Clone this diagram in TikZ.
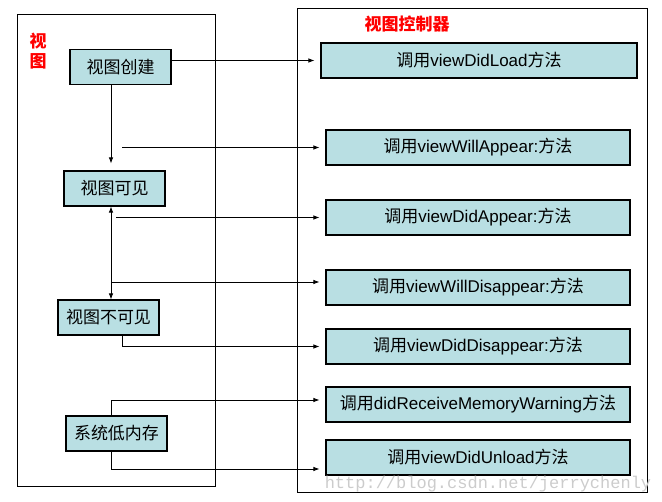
\documentclass[tikz,border=0pt]{standalone}
\usepackage{fontspec}
\setmainfont{Liberation Sans}
\setmonofont{Liberation Mono}
\newfontfamily\cjk{Noto Sans CJK SC}
\usepackage{tikz}
\usetikzlibrary{arrows.meta,positioning}
\definecolor{boxfill}{RGB}{185,223,227}
\newcommand\zh[1]{{\cjk #1}}

\begin{document}
\begin{tikzpicture}[
    x=1pt, y=-1pt,
    >={Latex[length=6pt,width=4.5pt]},
    every node/.style={font=\fontsize{17}{20}\selectfont},
    state/.style={draw, line width=1.1pt, fill=boxfill, minimum width=101pt,
                  minimum height=35pt, inner sep=0pt},
    method/.style={state, minimum width=#1},
    method/.default=304pt,
    frame/.style={draw, line width=0.8pt},
    title/.style={text=red, font=\fontsize{17}{20}\selectfont\cjk\bfseries},
    arr/.style={->, line width=0.8pt, shorten >=6pt},
  ]
    \useasboundingbox (0,0) rectangle (662,502);

    % --- Frames ---
    \draw[frame] (17,14) rectangle (215,486);
    \draw[frame] (297,8) rectangle (647,492);

    % --- Titles ---
    \node[title, align=center] (viewlbl) at (38,51) {视\\图};
    \node[title]               (ctrllbl) at (407,24) {视图控制器};

    % --- View states ---
    \node[state] (create)  at (120.5,67)  {\zh{视图创建}};
    \node[state] (visible) at (114.5,188.5) {\zh{视图可见}};
    \node[state] (hidden)  at (108.5,317.5) {\zh{视图不可见}};
    \node[state] (lowmem)  at (116.5,433.5) {\zh{系统低内存}};

    % --- Controller methods ---
    \node[method=316pt] (load)       at (479,60.5)  {\zh{调用}viewDidLoad\zh{方法}};
    \node[method]       (willappear) at (478,147.5) {\zh{调用}viewWillAppear:\zh{方法}};
    \node[method]       (didappear)  at (478,217.5) {\zh{调用}viewDidAppear:\zh{方法}};
    \node[method]       (willdis)    at (478,287.5) {\zh{调用}viewWillDisappear:\zh{方法}};
    \node[method]       (diddis)     at (478,346.5) {\zh{调用}viewDidDisappear:\zh{方法}};
    \node[method]       (memwarn)    at (478,404.5) {\zh{调用}didReceiveMemoryWarning\zh{方法}};
    \node[method]       (unload)     at (478,457.5) {\zh{调用}viewDidUnload\zh{方法}};

    \node[text=black!20, font=\fontsize{17}{20}\selectfont\ttfamily] (mark) at (488,484)
      {http://blog.csdn.net/jerrychenly};

    % --- Connectors ---
    \coordinate (trunk)  at (111,0);
    \coordinate (wa)     at (122,147.5);
    \coordinate (da)     at (116,217.5);
    \coordinate (branch) at (111,282);

    \draw[arr] (create.east |- load) -- (load.west);
    \draw[arr, shorten >=7pt] (create.south -| trunk) -- (visible.north -| trunk);
    \draw[arr] (wa) -- (willappear.west);
    \draw[arr] (da) -- (didappear.west);
    \draw[<->, line width=0.8pt] (visible.south -| trunk) -- (hidden.north -| trunk);
    \draw[arr] (branch) -- (branch -| willdis.west);
    \draw[arr] ([xshift=13.5pt]hidden.south) |- (diddis.west);
    \draw[arr] (lowmem.north -| trunk) |- ([yshift=4.5pt]memwarn.west);
    \draw[arr] (lowmem.south -| trunk) |- ([yshift=-11.5pt]unload.west);
  \end{tikzpicture}
\end{document}
